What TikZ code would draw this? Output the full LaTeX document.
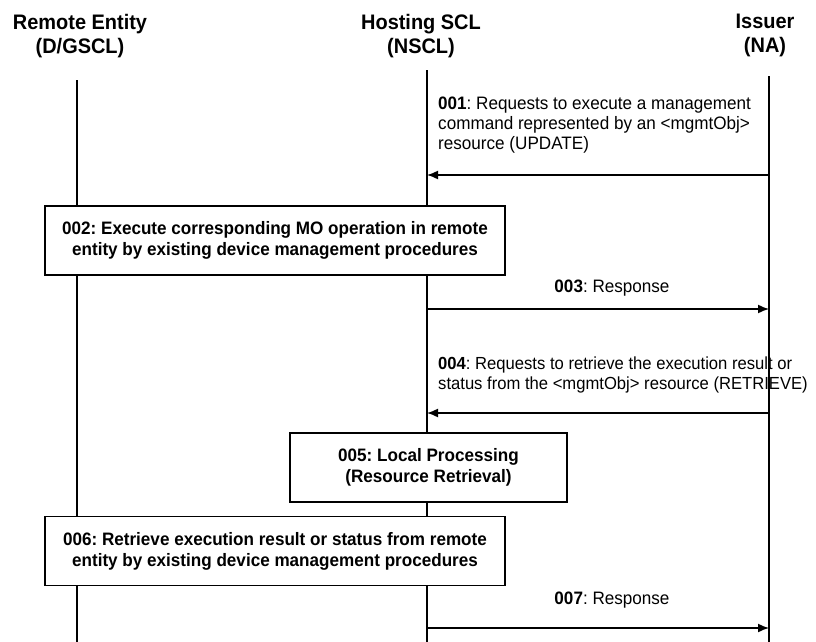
\documentclass[tikz,border=0pt]{standalone}
\usepackage{fontspec}
\setmainfont[FakeStretch=0.95]{Liberation Sans}
\usetikzlibrary{arrows.meta}
\frenchspacing

\tikzset{
  header/.style={font=\fontsize{21}{24}\selectfont\bfseries, align=center, inner sep=0pt, anchor=north},
  lifeline/.style={line width=1.1pt},
  msg/.style={line width=1.5pt, -{Latex[length=11pt,width=9pt]}},
  msgtext/.style={font=\fontsize{18}{20}\selectfont, align=left, inner sep=0pt},
  procbox/.style={draw, line width=1.1pt, fill=white, font=\fontsize{18}{21}\selectfont\bfseries,
    align=center, inner sep=0pt}
}

\begin{document}
\begin{tikzpicture}[x=1pt,y=-1pt]
\useasboundingbox (0,0) rectangle (816,642);

% column headers
\node[header] (hRE) at (80,14) {Remote Entity\\(D/GSCL)};
\node[header] (hNS) at (421,14) {Hosting SCL\\(NSCL)};
\node[header] (hNA) at (765,14) {Issuer\\(NA)};

% lifelines
\coordinate (reTop) at (77,80);   \coordinate (reBot) at (77,642);
\coordinate (nsTop) at (427,70);  \coordinate (nsBot) at (427,642);
\coordinate (naTop) at (769,76);  \coordinate (naBot) at (769,642);
\draw[lifeline] (reTop) -- (reBot);
\draw[lifeline] (nsTop) -- (nsBot);
\draw[lifeline] (naTop) -- (naBot);

% message end points on the lifelines
\coordinate (m1na) at (769,175); \coordinate (m1ns) at (427,175);
\coordinate (m3ns) at (427,309); \coordinate (m3na) at (769,309);
\coordinate (m4na) at (769,413); \coordinate (m4ns) at (427,413);
\coordinate (m7ns) at (427,628); \coordinate (m7na) at (769,628);

% 001
\node[msgtext, anchor=north west] (t1) at (438,97)
  {\textbf{001}: Requests to execute a management\\command represented by an <mgmtObj>\\resource (UPDATE)};
\draw[msg] (m1na) -- (m1ns);

% 002
\node[procbox, minimum width=460pt, minimum height=69pt] (b2) at (275,240.5)
  {002: Execute corresponding MO operation in remote\\entity by existing device management procedures};

% 003
\node[msgtext, anchor=base] (t3) at (612,292) {\textbf{003}: Response};
\draw[msg] (m3ns) -- (m3na);

% 004 (slightly tighter so the long second line stays inside)
\node[msgtext, font=\fontsize{17.5}{20}\selectfont, anchor=north west] (t4) at (438,357)
  {\textbf{004}: Requests to retrieve the execution result or\\status from the <mgmtObj> resource (RETRIEVE)};
\draw[msg] (m4na) -- (m4ns);

% 005
\node[procbox, minimum width=277pt, minimum height=69pt] (b5) at (428.5,467.5)
  {005: Local Processing\\(Resource Retrieval)};

% 006
\node[procbox, minimum width=460pt, minimum height=68.5pt] (b6) at (275,551)
  {006: Retrieve execution result or status from remote\\entity by existing device management procedures};

% 007
\node[msgtext, anchor=base] (t7) at (612,604) {\textbf{007}: Response};
\draw[msg] (m7ns) -- (m7na);
\end{tikzpicture}
\end{document}
